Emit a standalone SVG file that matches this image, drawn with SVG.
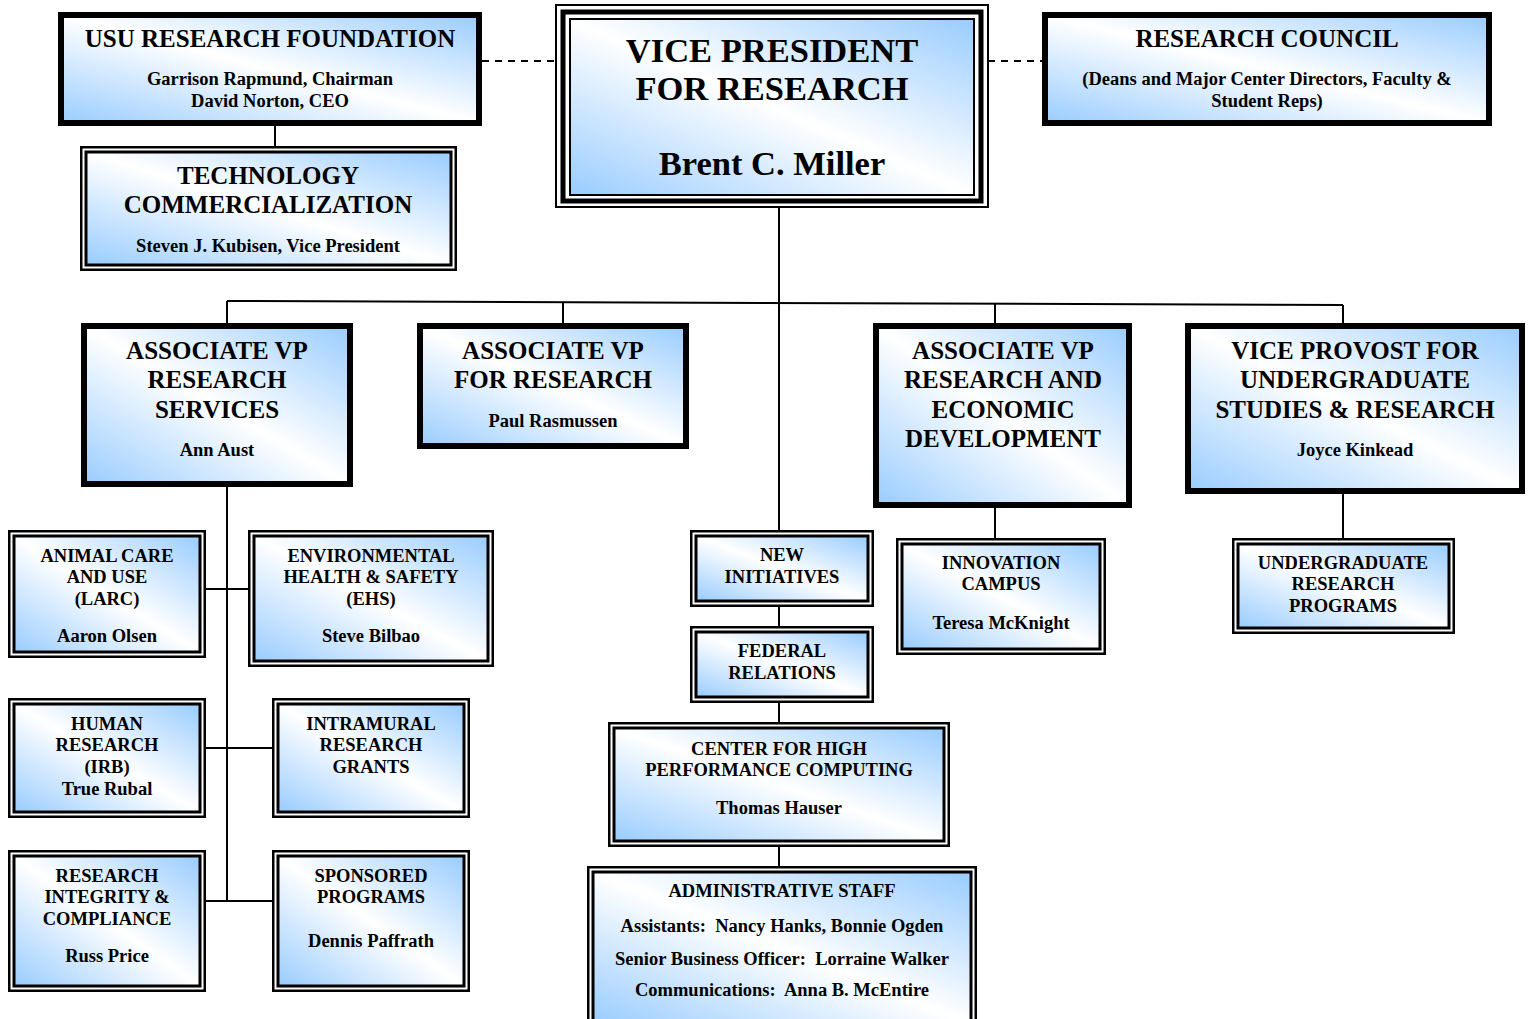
<svg xmlns="http://www.w3.org/2000/svg" width="1530" height="1019" viewBox="0 0 1530 1019">
<defs>
<linearGradient id="g" x1="0" y1="1" x2="1" y2="0">
<stop offset="0" stop-color="#99ccff"/>
<stop offset="0.5" stop-color="#ffffff"/>
<stop offset="1" stop-color="#99ccff"/>
</linearGradient>
<style>
.t{font-family:"Liberation Serif","Times New Roman",serif;font-weight:bold;fill:#000;text-anchor:middle;white-space:pre}
.big{font-size:34.5px}
.h{font-size:25px}
.s{font-size:18.5px}
.thick{fill:url(#g);stroke:#000;stroke-width:6}
.out{fill:#fff;stroke:#000;stroke-width:2.5}
.in{fill:url(#g);stroke:#000;stroke-width:3}
.ln{fill:none;stroke:#000;stroke-width:2}
.dash{fill:none;stroke:#000;stroke-width:2;stroke-dasharray:7 6}
</style>
</defs>
<rect width="1530" height="1019" fill="#fff"/>
<g id="connectors">
<path class="dash" d="M482 61 H556"/>
<path class="dash" d="M988 61 H1042"/>
<path class="ln" d="M275 126 V146"/>
<path class="ln" d="M779 207 V530"/>
<path class="ln" d="M227 301 L1343 305"/>
<path class="ln" d="M227 301 V323 M563 302.2 V323 M995 303.8 V323 M1343 305 V323"/>
<path class="ln" d="M227 487 V901"/>
<path class="ln" d="M206 589 H248 M206 748 H272 M206 901 H272"/>
<path class="ln" d="M779 607 V626 M779 703 V722 M779 847 V866"/>
<path class="ln" d="M995 508 V538"/>
<path class="ln" d="M1343 494 V538"/>
</g>
<g id="vp">
<rect x="556" y="5" width="432" height="202" fill="#fff" stroke="#000" stroke-width="2"/>
<rect x="563" y="12" width="418" height="189" fill="#fff" stroke="#000" stroke-width="5"/>
<rect x="570" y="19" width="404" height="176" fill="url(#g)" stroke="#000" stroke-width="2"/>
<text class="t big" x="772" y="62">VICE PRESIDENT</text>
<text class="t big" x="772" y="100">FOR RESEARCH</text>
<text class="t big" x="772" y="175">Brent C. Miller</text>
</g>
<g id="usu-foundation">
<rect class="thick" x="61" y="15" width="418" height="108"/>
<text class="t h" x="270" y="47">USU RESEARCH FOUNDATION</text>
<text class="t s" x="270" y="85">Garrison Rapmund, Chairman</text>
<text class="t s" x="270" y="107">David Norton, CEO</text>
</g>
<g id="research-council">
<rect class="thick" x="1045" y="15" width="444" height="108"/>
<text class="t h" x="1267" y="47">RESEARCH COUNCIL</text>
<text class="t s" x="1267" y="85">(Deans and Major Center Directors, Faculty &amp;</text>
<text class="t s" x="1267" y="107">Student Reps)</text>
</g>
<g id="tech-commercialization">
<rect class="out" x="81.25" y="147.25" width="374.5" height="122.5"/>
<rect class="in" x="86" y="152" width="365" height="113"/>
<text class="t h" x="268" y="184">TECHNOLOGY</text>
<text class="t h" x="268" y="213">COMMERCIALIZATION</text>
<text class="t s" x="268" y="252">Steven J. Kubisen, Vice President</text>
</g>
<g id="avp-research-services">
<rect class="thick" x="84" y="326" width="266" height="158"/>
<text class="t h" x="217" y="359">ASSOCIATE VP</text>
<text class="t h" x="217" y="388">RESEARCH</text>
<text class="t h" x="217" y="418">SERVICES</text>
<text class="t s" x="217" y="456">Ann Aust</text>
</g>
<g id="avp-research">
<rect class="thick" x="420" y="326" width="266" height="120"/>
<text class="t h" x="553" y="359">ASSOCIATE VP</text>
<text class="t h" x="553" y="388">FOR RESEARCH</text>
<text class="t s" x="553" y="427">Paul Rasmussen</text>
</g>
<g id="avp-economic-development">
<rect class="thick" x="876" y="326" width="253" height="179"/>
<text class="t h" x="1003" y="359">ASSOCIATE VP</text>
<text class="t h" x="1003" y="388">RESEARCH AND</text>
<text class="t h" x="1003" y="418">ECONOMIC</text>
<text class="t h" x="1003" y="447">DEVELOPMENT</text>
</g>
<g id="vice-provost">
<rect class="thick" x="1188" y="326" width="334" height="165"/>
<text class="t h" x="1355" y="359">VICE PROVOST FOR</text>
<text class="t h" x="1355" y="388">UNDERGRADUATE</text>
<text class="t h" x="1355" y="418">STUDIES &amp; RESEARCH</text>
<text class="t s" x="1355" y="456">Joyce Kinkead</text>
</g>
<g id="animal-care">
<rect class="out" x="9.25" y="531.25" width="195.5" height="125.5"/>
<rect class="in" x="14" y="536" width="186" height="116"/>
<text class="t s" x="107" y="562">ANIMAL CARE</text>
<text class="t s" x="107" y="583">AND USE</text>
<text class="t s" x="107" y="605">(LARC)</text>
<text class="t s" x="107" y="642">Aaron Olsen</text>
</g>
<g id="ehs">
<rect class="out" x="249.25" y="531.25" width="243.5" height="134.5"/>
<rect class="in" x="254" y="536" width="234" height="125"/>
<text class="t s" x="371" y="562">ENVIRONMENTAL</text>
<text class="t s" x="371" y="583">HEALTH &amp; SAFETY</text>
<text class="t s" x="371" y="605">(EHS)</text>
<text class="t s" x="371" y="642">Steve Bilbao</text>
</g>
<g id="human-research">
<rect class="out" x="9.25" y="699.25" width="195.5" height="117.5"/>
<rect class="in" x="14" y="704" width="186" height="108"/>
<text class="t s" x="107" y="730">HUMAN</text>
<text class="t s" x="107" y="751">RESEARCH</text>
<text class="t s" x="107" y="773">(IRB)</text>
<text class="t s" x="107" y="795">True Rubal</text>
</g>
<g id="intramural">
<rect class="out" x="273.25" y="699.25" width="195.5" height="117.5"/>
<rect class="in" x="278" y="704" width="186" height="108"/>
<text class="t s" x="371" y="730">INTRAMURAL</text>
<text class="t s" x="371" y="751">RESEARCH</text>
<text class="t s" x="371" y="773">GRANTS</text>
</g>
<g id="research-integrity">
<rect class="out" x="9.25" y="851.25" width="195.5" height="139.5"/>
<rect class="in" x="14" y="856" width="186" height="130"/>
<text class="t s" x="107" y="882">RESEARCH</text>
<text class="t s" x="107" y="903">INTEGRITY &amp;</text>
<text class="t s" x="107" y="925">COMPLIANCE</text>
<text class="t s" x="107" y="962">Russ Price</text>
</g>
<g id="sponsored-programs">
<rect class="out" x="273.25" y="851.25" width="195.5" height="139.5"/>
<rect class="in" x="278" y="856" width="186" height="130"/>
<text class="t s" x="371" y="882">SPONSORED</text>
<text class="t s" x="371" y="903">PROGRAMS</text>
<text class="t s" x="371" y="947">Dennis Paffrath</text>
</g>
<g id="new-initiatives">
<rect class="out" x="691.25" y="531.25" width="181.5" height="74.5"/>
<rect class="in" x="696" y="536" width="172" height="65"/>
<text class="t s" x="782" y="561">NEW</text>
<text class="t s" x="782" y="583">INITIATIVES</text>
</g>
<g id="federal-relations">
<rect class="out" x="691.25" y="627.25" width="181.5" height="74.5"/>
<rect class="in" x="696" y="632" width="172" height="65"/>
<text class="t s" x="782" y="657">FEDERAL</text>
<text class="t s" x="782" y="679">RELATIONS</text>
</g>
<g id="chpc">
<rect class="out" x="609.25" y="723.25" width="339.5" height="122.5"/>
<rect class="in" x="614" y="728" width="330" height="113"/>
<text class="t s" x="779" y="755">CENTER FOR HIGH</text>
<text class="t s" x="779" y="776">PERFORMANCE COMPUTING</text>
<text class="t s" x="779" y="814">Thomas Hauser</text>
</g>
<g id="administrative-staff">
<rect class="out" x="588.25" y="867.25" width="387.5" height="161.5"/>
<rect class="in" x="593" y="872" width="378" height="152"/>
<text class="t s" x="782" y="897">ADMINISTRATIVE STAFF</text>
<text class="t s" x="782" y="932">Assistants:  Nancy Hanks, Bonnie Ogden</text>
<text class="t s" x="782" y="965">Senior Business Officer:  Lorraine Walker</text>
<text class="t s" x="782" y="996">Communications:  Anna B. McEntire</text>
</g>
<g id="innovation-campus">
<rect class="out" x="897.25" y="539.25" width="207.5" height="114.5"/>
<rect class="in" x="902" y="544" width="198" height="105"/>
<text class="t s" x="1001" y="569">INNOVATION</text>
<text class="t s" x="1001" y="590">CAMPUS</text>
<text class="t s" x="1001" y="629">Teresa McKnight</text>
</g>
<g id="undergraduate-research">
<rect class="out" x="1233.25" y="539.25" width="220.5" height="93.5"/>
<rect class="in" x="1238" y="544" width="211" height="84"/>
<text class="t s" x="1343" y="569">UNDERGRADUATE</text>
<text class="t s" x="1343" y="590">RESEARCH</text>
<text class="t s" x="1343" y="612">PROGRAMS</text>
</g>
</svg>
